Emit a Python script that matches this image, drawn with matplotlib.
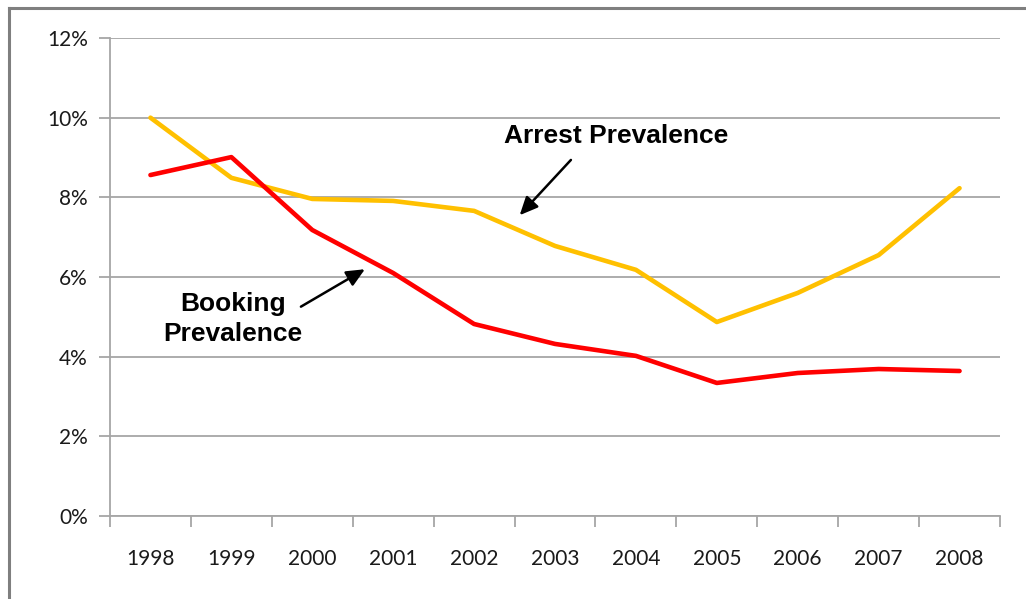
import matplotlib
matplotlib.use("Agg")
import matplotlib.pyplot as plt
from matplotlib.lines import Line2D
from matplotlib.ticker import FuncFormatter, FixedLocator

years = ["1998", "1999", "2000", "2001", "2002", "2003", "2004", "2005", "2006", "2007", "2008"]
arrest = [10.0, 8.49, 7.96, 7.91, 7.66, 6.78, 6.18, 4.87, 5.60, 6.55, 8.23]
booking = [8.56, 9.01, 7.18, 6.10, 4.82, 4.32, 4.02, 3.34, 3.59, 3.69, 3.64]

W, H = 1026, 599
fig = plt.figure(figsize=(W / 100, H / 100), dpi=100, facecolor="white")
ax = fig.add_axes([110 / W, (H - 516) / H, 890 / W, (516 - 38) / H])

x = list(range(len(years)))
ax.plot(x, arrest, color="#FFC000", linewidth=3.3, solid_capstyle="round", zorder=3)
ax.plot(x, booking, color="#FF0000", linewidth=3.3, solid_capstyle="round", zorder=3)

ax.set_xlim(-0.5, len(years) - 0.5)
ax.set_ylim(0, 12)
ax.set_yticks(range(0, 13, 2))
ax.yaxis.set_major_formatter(FuncFormatter(lambda v, p: f"{v:.0f}%"))
ax.grid(axis="y", color="#A6A6A6", linewidth=1.3)
ax.set_axisbelow(True)

# category labels centred, tick marks at category boundaries
ax.set_xticks(x)
ax.set_xticklabels(years)
ax.tick_params(axis="x", which="major", length=0, pad=24)
ax.xaxis.set_minor_locator(FixedLocator([i - 0.5 for i in range(len(years) + 1)]))
ax.tick_params(axis="x", which="minor", length=8, width=1.3, color="#A6A6A6")
ax.tick_params(axis="y", length=8, width=1.3, color="#A6A6A6", pad=8)

for lab in ax.get_xticklabels() + ax.get_yticklabels():
    lab.set_fontfamily("Lato")
    lab.set_fontsize(15)
    lab.set_color("#1a1a1a")

for side in ["top", "right"]:
    ax.spines[side].set_visible(False)
for side in ["left", "bottom"]:
    ax.spines[side].set_color("#A6A6A6")
    ax.spines[side].set_linewidth(1.3)

bold = dict(family="Liberation Sans", weight="bold", fontsize=19, color="black")
arrow = dict(arrowstyle="-|>,head_length=1.1,head_width=0.5", color="black", lw=1.8)
ax.text(5.75, 9.54, "Arrest Prevalence", ha="center", va="center", **bold)
ax.annotate("", xy=(4.54, 7.5), xytext=(5.22, 8.99), arrowprops=arrow)
ax.text(1.02, 4.95, "Booking\nPrevalence", ha="center", va="center", linespacing=1.35, **bold)
ax.annotate("", xy=(2.68, 6.23), xytext=(1.83, 5.22), arrowprops=arrow)

# frame lines around the chart area
fig.add_artist(Line2D([8.5 / W, 8.5 / W], [0, 1 - 8 / H], color="#7F7F7F", linewidth=2.2))
fig.add_artist(Line2D([8.5 / W, 1], [1 - 8 / H, 1 - 8 / H], color="#7F7F7F", linewidth=2.2))

fig.savefig("out.png", dpi=100, facecolor="white")
